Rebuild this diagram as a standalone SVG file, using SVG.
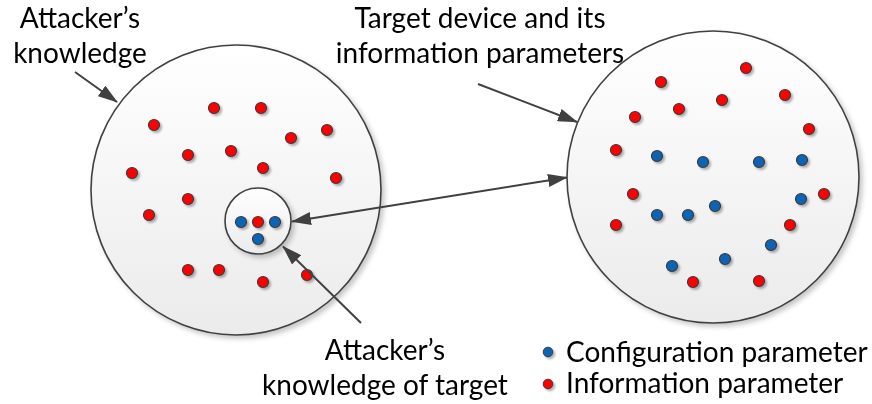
<svg xmlns="http://www.w3.org/2000/svg" width="872" height="404" viewBox="0 0 872 404">
  <defs>
    <linearGradient id="discFill" x1="0" y1="0" x2="0" y2="1">
      <stop offset="0" stop-color="#ffffff"/>
      <stop offset="1" stop-color="#ebebeb"/>
    </linearGradient>
    <filter id="discShadow" x="-10%" y="-10%" width="125%" height="125%">
      <feDropShadow dx="3" dy="3" stdDeviation="2.5" flood-color="#000" flood-opacity="0.22"/>
    </filter>
    <filter id="dotShadow" x="-50%" y="-50%" width="220%" height="220%">
      <feDropShadow dx="2" dy="2" stdDeviation="1.2" flood-color="#000" flood-opacity="0.3"/>
    </filter>
    <marker id="head" viewBox="0 0 20 13" markerWidth="20" markerHeight="13" refX="19" refY="6.5" orient="auto-start-reverse" markerUnits="userSpaceOnUse">
      <path d="M0,0 L20,6.5 L0,13 z" fill="#404040"/>
    </marker>
    <circle id="dot" r="5.5" stroke="#3a3a3a" stroke-width="1.2"/>
    <circle id="bullet" r="4.8" stroke="#3a3a3a" stroke-width="1"/>
  </defs>
  <style>
    .disc { fill: url(#discFill); stroke: #404040; stroke-width: 1.6; filter: url(#discShadow); }
    .info { fill: #ff0000; }
    .conf { fill: #0f64b4; }
    .dots { filter: url(#dotShadow); }
    .label { font-family: Lato, "Open Sans", sans-serif; font-size: 28px; fill: #000; }
    .conn { fill: none; stroke: #404040; stroke-width: 2; }
  </style>

  <!-- attacker's knowledge -->
  <g id="attacker-knowledge">
    <circle class="disc" cx="236" cy="190" r="145"/>
    <g class="dots">
      <use href="#dot" class="info" x="214" y="108"/>
      <use href="#dot" class="info" x="261" y="108"/>
      <use href="#dot" class="info" x="154" y="125"/>
      <use href="#dot" class="info" x="291" y="138"/>
      <use href="#dot" class="info" x="327" y="130"/>
      <use href="#dot" class="info" x="188" y="155"/>
      <use href="#dot" class="info" x="231" y="151"/>
      <use href="#dot" class="info" x="263" y="168"/>
      <use href="#dot" class="info" x="132" y="173"/>
      <use href="#dot" class="info" x="336" y="178"/>
      <use href="#dot" class="info" x="188" y="199"/>
      <use href="#dot" class="info" x="149" y="215"/>
      <use href="#dot" class="info" x="188" y="270"/>
      <use href="#dot" class="info" x="219" y="270"/>
      <use href="#dot" class="info" x="263" y="282"/>
      <use href="#dot" class="info" x="307" y="275"/>
    </g>
  </g>

  <!-- attacker's knowledge of the target -->
  <g id="knowledge-of-target">
    <circle class="disc" cx="258" cy="221" r="33"/>
    <g class="dots">
      <use href="#dot" class="conf" x="241" y="222"/>
      <use href="#dot" class="info" x="258" y="222"/>
      <use href="#dot" class="conf" x="275" y="222"/>
      <use href="#dot" class="conf" x="258" y="239"/>
    </g>
  </g>

  <!-- target device -->
  <g id="target-device">
    <circle class="disc" cx="713" cy="177" r="146"/>
    <g class="dots">
      <use href="#dot" class="info" x="746" y="68"/>
      <use href="#dot" class="info" x="661" y="82"/>
      <use href="#dot" class="info" x="785" y="95"/>
      <use href="#dot" class="info" x="722" y="100"/>
      <use href="#dot" class="info" x="679" y="109"/>
      <use href="#dot" class="info" x="635" y="117"/>
      <use href="#dot" class="info" x="809" y="129"/>
      <use href="#dot" class="info" x="616" y="150"/>
      <use href="#dot" class="conf" x="657" y="156"/>
      <use href="#dot" class="conf" x="703" y="162"/>
      <use href="#dot" class="conf" x="759" y="162"/>
      <use href="#dot" class="conf" x="802" y="160"/>
      <use href="#dot" class="info" x="633" y="194"/>
      <use href="#dot" class="conf" x="801" y="199"/>
      <use href="#dot" class="info" x="824" y="194"/>
      <use href="#dot" class="conf" x="715" y="206"/>
      <use href="#dot" class="conf" x="657" y="215"/>
      <use href="#dot" class="conf" x="688" y="215"/>
      <use href="#dot" class="info" x="616" y="225"/>
      <use href="#dot" class="info" x="790" y="225"/>
      <use href="#dot" class="conf" x="771" y="245"/>
      <use href="#dot" class="conf" x="725" y="259"/>
      <use href="#dot" class="conf" x="672" y="266"/>
      <use href="#dot" class="info" x="693" y="282"/>
      <use href="#dot" class="info" x="759" y="281"/>
    </g>
  </g>

  <!-- connectors -->
  <g id="connectors" class="conn">
    <line x1="75" y1="72" x2="117" y2="102" marker-end="url(#head)"/>
    <line x1="478" y1="84" x2="577" y2="122" marker-end="url(#head)"/>
    <line x1="292" y1="221.5" x2="567" y2="177.5" marker-start="url(#head)" marker-end="url(#head)"/>
    <line x1="361" y1="323" x2="283" y2="246.5" marker-end="url(#head)"/>
  </g>

  <!-- labels -->
  <g id="labels" class="label">
    <text x="80" y="28" text-anchor="middle">Attacker’s</text>
    <text x="80" y="63" text-anchor="middle">knowledge</text>
    <text x="480" y="28" text-anchor="middle">Target device and its</text>
    <text x="480" y="63" text-anchor="middle">information parameters</text>
    <text x="385" y="360" text-anchor="middle">Attacker’s</text>
    <text x="385" y="395" text-anchor="middle">knowledge of target</text>
  </g>

  <!-- legend -->
  <g id="legend">
    <g class="dots">
      <use href="#bullet" class="conf" x="548" y="352"/>
      <use href="#bullet" class="info" x="548" y="384"/>
    </g>
    <text class="label" x="566" y="362">Configuration parameter</text>
    <text class="label" x="566" y="393">Information parameter</text>
  </g>
</svg>
